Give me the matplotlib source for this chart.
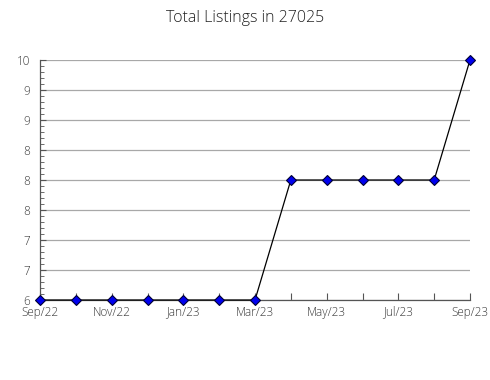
import matplotlib.pyplot as plt
from matplotlib.ticker import MultipleLocator

months = ['Sep/22', 'Oct/22', 'Nov/22', 'Dec/22', 'Jan/23', 'Feb/23', 'Mar/23',
          'Apr/23', 'May/23', 'Jun/23', 'Jul/23', 'Aug/23', 'Sep/23']
listings = [6, 6, 6, 6, 6, 6, 6, 8, 8, 8, 8, 8, 10]
y_ticks = [6, 6.5, 7, 7.5, 8, 8.5, 9, 9.5, 10]
y_labels = ['6', '7', '7', '8', '8', '8', '9', '9', '10']

plt.rcParams['font.family'] = ['Open Sans', 'DejaVu Sans']
plt.rcParams['font.weight'] = 'light'

fig = plt.figure(figsize=(4.9, 3.8), dpi=100)
ax = fig.add_axes([40 / 490, 80 / 380, 430 / 490, 240 / 380])

x = list(range(len(months)))
ax.plot(x, listings, color='black', lw=0.9, zorder=3,
        marker='D', ms=5.5, mfc='#0000ee', mec='#000033', mew=0.8, clip_on=False)

ax.set_xlim(0, len(months) - 1)
ax.set_ylim(6, 10)
ax.set_yticks(y_ticks)
ax.set_yticklabels(y_labels)
ax.yaxis.set_minor_locator(MultipleLocator(0.1))
ax.set_xticks(x)
ax.set_xticklabels([m if i % 2 == 0 else '' for i, m in enumerate(months)])

ax.grid(axis='y', color='#a8a8a8', lw=0.9)
ax.set_axisbelow(True)
for s in ['top', 'right']:
    ax.spines[s].set_visible(False)
for s in ['left', 'bottom']:
    ax.spines[s].set_color('#555555')
    ax.spines[s].set_linewidth(0.9)

ax.tick_params(axis='x', direction='in', length=5, color='#555555',
               labelsize=8.5, labelcolor='#3a3a3a', pad=4)
ax.tick_params(axis='y', which='major', direction='in', length=4, color='#555555',
               labelsize=8.5, labelcolor='#3a3a3a', pad=7)
ax.tick_params(axis='y', which='minor', direction='in', length=3, color='#555555')

fig.suptitle('Total Listings in 27025', y=0.975, fontsize=11.5, color='#222222',
             fontweight='light')

fig.savefig('out.png', dpi=100)
